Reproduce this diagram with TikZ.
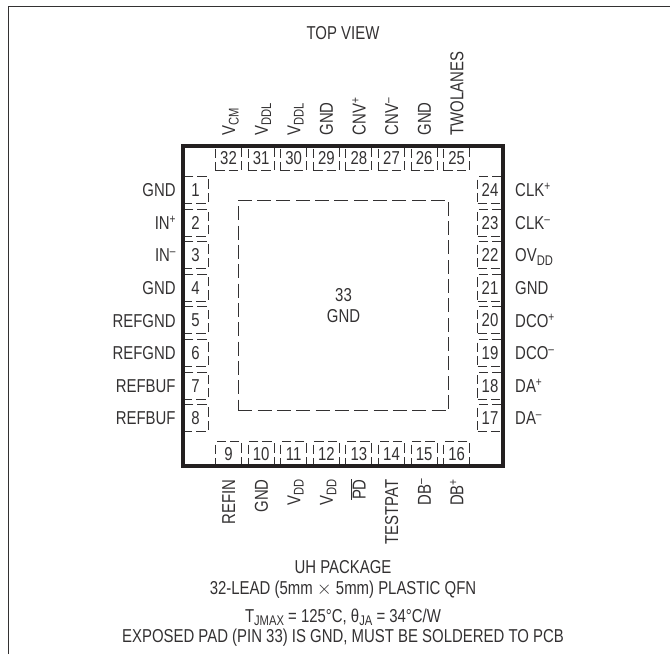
\documentclass[tikz,border=0pt]{standalone}
\usepackage{fontspec}
\setmainfont[FakeStretch=0.8]{Liberation Sans}
\usetikzlibrary{positioning}
\definecolor{inkgray}{HTML}{333132}
\definecolor{chipblack}{HTML}{231F20}
\tikzset{
    pinl/.style = {rectangle, draw=inkgray, dashed, dash pattern=on 7pt off 3pt, line width=0.7pt, inner sep=0pt, minimum width=18.75pt, minimum height=20.25pt},
    pinv/.style = {rectangle, draw=inkgray, dashed, dash pattern=on 7pt off 3pt, line width=0.7pt, inner sep=0pt, minimum width=19.5pt, minimum height=18.75pt},
    pinlbl/.style = {inner sep=0pt, text height=10pt, text depth=0pt},
    lbll/.style = {pinlbl, label distance=5pt},
    lblr/.style = {pinlbl, label distance=9pt},
    lblt/.style = {pinlbl, rotate=90, anchor=west, label distance=0pt, inner xsep=7pt},
    lblb/.style = {pinlbl, rotate=90, anchor=east, label distance=0pt, inner xsep=9pt},
    caption/.style = {inner sep=0pt, align=center},
    chip/.style = {rectangle, draw=chipblack, line width=3pt, minimum width=240pt, minimum height=240pt},
    pad/.style = {rectangle, draw=inkgray, dashed, dash pattern=on 10.5pt off 4pt, line width=0.7pt, minimum width=158pt, minimum height=158pt, align=center},
    every node/.style = {font=\fontsize{14pt}{15.5pt}\selectfont, text=inkgray}
}
\newcommand{\lowt}[1]{\raisebox{-2.5pt}{\fontsize{10.5pt}{10.5pt}\selectfont #1}}
\newcommand{\upt}[1]{\raisebox{4.5pt}{\fontsize{9.5pt}{9.5pt}\selectfont #1}}
\begin{document}
\begin{tikzpicture}[x=0.75pt,y=-0.75pt,label distance=8pt]
\useasboundingbox (0,0) rectangle (670,654);
\draw[inkgray, line width=1pt] (8.5,654) -- (8.5,6.5) -- (670,6.5);
%
\node[caption] at (343,33) (topview) {TOP VIEW};
% pins on the left
\node[pinl, label={[lbll]left:GND}] at (195.5,190) (p1) {1};
\node[pinl, label={[lbll]left:IN\upt{+}}] at (195.5,222.6) (p2) {2};
\node[pinl, label={[lbll]left:IN\upt{–}}] at (195.5,255.2) (p3) {3};
\node[pinl, label={[lbll]left:GND}] at (195.5,287.8) (p4) {4};
\node[pinl, label={[lbll]left:REFGND}] at (195.5,320.4) (p5) {5};
\node[pinl, label={[lbll]left:REFGND}] at (195.5,353) (p6) {6};
\node[pinl, label={[lbll]left:REFBUF}] at (195.5,385.6) (p7) {7};
\node[pinl, label={[lbll]left:REFBUF}] at (195.5,418.2) (p8) {8};
% pins on the bottom
\node[pinv, label={[lblb]below:REFIN}] at (228.5,454) (p9) {9};
\node[pinv, label={[lblb]below:GND}] at (261.1,454) (p10) {10};
\node[pinv, label={[lblb]below:V\lowt{DD}}] at (293.7,454) (p11) {11};
\node[pinv, label={[lblb]below:V\lowt{DD}}] at (326.3,454) (p12) {12};
\node[pinv, label={[lblb]below:$\overline{\mbox{PD}}$}] at (358.9,454) (p13) {13};
\node[pinv, label={[lblb]below:TESTPAT}] at (391.5,454) (p14) {14};
\node[pinv, label={[lblb]below:DB\upt{–}}] at (424.1,454) (p15) {15};
\node[pinv, label={[lblb]below:DB\upt{+}}] at (456.7,454) (p16) {16};
% pins on the right
\node[pinl, label={[lblr]right:DA\upt{–}}] at (490,418.2) (p17) {17};
\node[pinl, label={[lblr]right:DA\upt{+}}] at (490,385.6) (p18) {18};
\node[pinl, label={[lblr]right:DCO\upt{–}}] at (490,353) (p19) {19};
\node[pinl, label={[lblr]right:DCO\upt{+}}] at (490,320.4) (p20) {20};
\node[pinl, label={[lblr]right:GND}] at (490,287.8) (p21) {21};
\node[pinl, label={[lblr]right:OV\lowt{DD}}] at (490,255.2) (p22) {22};
\node[pinl, label={[lblr]right:CLK\upt{–}}] at (490,222.6) (p23) {23};
\node[pinl, label={[lblr]right:CLK\upt{+}}] at (490,190) (p24) {24};
% pins on the top
\node[pinv, label={[lblt]above:TWOLANES}] at (456.7,158) (p25) {25};
\node[pinv, label={[lblt]above:GND}] at (424.1,158) (p26) {26};
\node[pinv, label={[lblt]above:CNV\upt{–}}] at (391.5,158) (p27) {27};
\node[pinv, label={[lblt]above:CNV\upt{+}}] at (358.9,158) (p28) {28};
\node[pinv, label={[lblt]above:GND}] at (326.3,158) (p29) {29};
\node[pinv, label={[lblt]above:V\lowt{DDL}}] at (293.7,158) (p30) {30};
\node[pinv, label={[lblt]above:V\lowt{DDL}}] at (261.1,158) (p31) {31};
\node[pinv, label={[lblt]above:V\lowt{CM}}] at (228.5,158) (p32) {32};
%
\node[chip] at (343,305.75) (body) {};
\node[pad] at (343.5,305.5) (p33) {33\\GND};
%
\node[caption] at (343,567) (pkg) {UH PACKAGE};
\node[caption] at (343,590) (lead) {32-LEAD (5mm $\times$ 5mm) PLASTIC QFN};
\node[caption] at (343,617) (temp) {T\lowt{JMAX} = 125°C, θ\lowt{JA} = 34°C/W};
\node[caption] at (343,638) (note) {EXPOSED PAD (PIN 33) IS GND, MUST BE SOLDERED TO PCB};
\end{tikzpicture}
\end{document}
